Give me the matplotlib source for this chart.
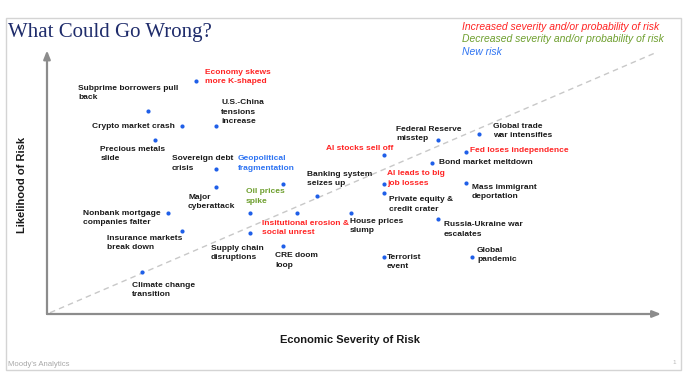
import matplotlib
matplotlib.use("Agg")
import matplotlib.pyplot as plt
from matplotlib.patches import Rectangle

# ---- data (severity 0-100, likelihood 0-100) ----
risks = [
    "Economy skews\nmore K-shaped",
    "Subprime borrowers pull\nback",
    "Crypto market crash",
    "U.S.-China\ntensions\nincrease",
    "Precious metals\nslide",
    "Sovereign debt\ncrisis",
    "Geopolitical\nfragmentation",
    "Major\ncyberattack",
    "Banking system\nseizes up",
    "Oil prices\nspike",
    "Insitutional erosion &\nsocial unrest",
    "Nonbank mortgage\ncompanies falter",
    "Insurance markets\nbreak down",
    "Supply chain\ndisruptions",
    "CRE doom\nloop",
    "Climate change\ntransition",
    "House prices\nslump",
    "AI stocks sell off",
    "AI leads to big\njob losses",
    "Private equity &\ncredit crater",
    "Federal Reserve\nmisstep",
    "Global trade\nwar intensifies",
    "Fed loses independence",
    "Bond market meltdown",
    "Mass immigrant\ndeportation",
    "Russia-Ukraine war\nescalates",
    "Terrorist\nevent",
    "Global\npandemic",
]
severity = [24.5, 16.6, 22.2, 27.8, 17.8, 27.8, 38.8, 27.8, 44.4, 33.4, 41.1, 19.9, 22.2, 33.4,
            38.8, 15.6, 50.0, 55.4, 55.4, 55.4, 64.3, 71.1, 68.9, 63.3, 68.9, 64.3, 55.4, 69.9]
likelihood = [89.3, 77.8, 72.0, 72.0, 66.7, 55.6, 49.8, 48.7, 45.2, 38.7, 38.7, 38.7, 31.8, 31.0,
              26.1, 16.1, 38.7, 60.9, 49.8, 46.4, 66.7, 69.0, 62.1, 57.9, 50.2, 36.4, 21.8, 21.8]
# status: 0 unchanged, 1 increased, 2 decreased, 3 new
status = [1, 0, 0, 0, 0, 0, 3, 0, 0, 2, 1, 0, 0, 0, 0, 0, 0, 1, 1, 0, 0, 0, 1, 0, 0, 0, 0, 0]

legend_labels = ["Increased severity and/or probability of risk",
                 "Decreased severity and/or probability of risk",
                 "New risk"]

# ---- styling / label placement (pixel offsets, ha) ----
status_colors = {0: "#1a1a1a", 1: "#FF2424", 2: "#6E9F2E", 3: "#2F74F2"}
offsets = [
    (9, 4, "left"), (-70, 18, "left"), (-7, 0, "right"), (5, 14, "left"),
    (-55, -14, "left"), (-44, 5.5, "left"), (-45, 20.5, "left"), (-28, -15, "left"),
    (-10, 17, "left"), (-4, 16.5, "left"), (-35, -15, "left"), (-85, -5, "left"),
    (-75, -12, "left"), (-39, -20, "left"), (-8, -14.5, "left"), (-10, -18, "left"),
    (-1, -13, "left"), (-24, 7, "center"), (3, 5.5, "left"), (5, -11.5, "left"),
    (-42, 6, "left"), (14, 3, "left"), (4, 1, "left"), (7, 0, "left"),
    (6, -9, "left"), (6, -10.5, "left"), (3, -5, "left"), (5, 2, "left"),
]

W, H = 697, 374
fig = plt.figure(figsize=(W / 100, H / 100), dpi=100)
fig.patch.set_facecolor("white")

# slide border
fig.add_artist(Rectangle((6 / W, 4 / H), 675 / W, 352 / H, transform=fig.transFigure,
                         fill=False, edgecolor="#D4D4D4", linewidth=1.0))

ax = fig.add_axes([47 / W, (H - 314) / H, 608 / W, 261 / H])
ax.set_xlim(0, 100)
ax.set_ylim(0, 100)
ax.axis("off")

# diagonal dashed line
ax.plot([0.5, 100], [0.5, 100], linestyle=(0, (4, 3)), color="#C8C8C8", linewidth=1.0,
        clip_on=False, zorder=1)

# axes arrows
arrow_kw = dict(arrowstyle="-|>,head_length=0.5,head_width=0.2", color="#8C8C8C", lw=1.6,
                shrinkA=0, shrinkB=0)
ax.annotate("", xy=(101, 0), xytext=(0, 0), arrowprops=arrow_kw, annotation_clip=False)
ax.annotate("", xy=(0, 101), xytext=(0, 0), arrowprops=arrow_kw, annotation_clip=False)

ax.scatter(severity, likelihood, s=9, color="#1F5FE8", zorder=3, clip_on=False, linewidths=0)

for name, x, y, st, (dx, dy, ha) in zip(risks, severity, likelihood, status, offsets):
    ax.annotate(name, xy=(x, y), xytext=(dx, dy), textcoords="offset pixels",
                ha=ha, va="center", fontsize=6.0, fontweight="bold",
                family="Liberation Sans", color=status_colors[st],
                linespacing=1.5, multialignment="left" if ha != "center" else "center",
                zorder=4)

# title
fig.text(8 / W, 1 - 33 / H, "What Could Go Wrong?", family="Liberation Serif",
         fontsize=15, color="#1F2C6B", va="center", ha="left")

# legend texts
for i, (lab, st) in enumerate(zip(legend_labels, [1, 2, 3])):
    fig.text(462 / W, 1 - (27 + 12.5 * i) / H, lab, family="Liberation Sans", style="italic",
             fontsize=7.5, color=status_colors[st], va="center", ha="left")

# axis labels
fig.text(22 / W, 1 - 185 / H, "Likelihood of Risk", rotation=90, family="Liberation Sans",
         fontweight="bold", fontsize=8.0, color="#1a1a1a", va="center", ha="center")
fig.text(350 / W, 1 - 340 / H, "Economic Severity of Risk", family="Liberation Sans",
         fontweight="bold", fontsize=8.0, color="#1a1a1a", va="center", ha="center")

fig.text(8 / W, 1 - 364 / H, "Moody's Analytics", family="Liberation Sans", fontsize=5.6,
         color="#A8A8A8", va="center", ha="left")
fig.text(672 / W, 1 - 363 / H, "1", family="Liberation Sans", fontsize=4.5,
         color="#B8B8B8", va="center", ha="left")

fig.savefig("out.png", dpi=100, facecolor="white")
